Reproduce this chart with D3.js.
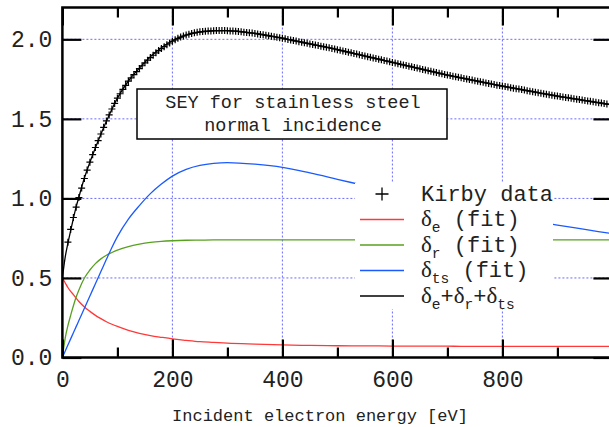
<!DOCTYPE html>
<html>
<head>
<meta charset="utf-8">
<script src="https://cdn.jsdelivr.net/npm/d3@7/dist/d3.min.js"></script>
<style>
  html, body { margin: 0; padding: 0; background: #fff; }
  svg { display: block; }
</style>
</head>
<body>
<svg id="chart" width="609" height="427"></svg>
<script>
// ---------------- DATA ----------------
const xTicksMajor = [0, 200, 400, 600, 800, 1000];
const xTickLabels = ["0", "200", "400", "600", "800", ""];
const xTicksMinor = [100, 300, 500, 700, 900];
const yTicks = [0.0, 0.5, 1.0, 1.5, 2.0];

const titleLines = ["SEY for stainless steel", "normal incidence"];
const xAxisTitle = "Incident electron energy [eV]";

// Fit curves, energy grid (eV)
const fitEnergy = [0, 5, 10, 15, 20, 25, 30, 40, 50, 60, 70, 80, 90, 100, 120, 140, 160, 180, 200,
  225, 250, 275, 300, 350, 400, 450, 500, 550, 600, 650, 700, 750, 800, 850, 900, 950, 1000];

const deltaE = [0.5, 0.47, 0.44, 0.416, 0.395, 0.373, 0.352, 0.318, 0.29, 0.265, 0.244, 0.225, 0.209, 0.195,
  0.171, 0.152, 0.138, 0.127, 0.117, 0.108, 0.1, 0.095, 0.09, 0.084, 0.079, 0.076, 0.074, 0.073, 0.072,
  0.071, 0.071, 0.07, 0.07, 0.07, 0.07, 0.07, 0.07];

const deltaR = [0, 0.12, 0.2, 0.265, 0.325, 0.38, 0.425, 0.5, 0.55, 0.59, 0.62, 0.643, 0.66, 0.675,
  0.697, 0.712, 0.723, 0.73, 0.734, 0.737, 0.738, 0.739, 0.739, 0.739, 0.739, 0.739, 0.739, 0.739, 0.739,
  0.739, 0.739, 0.739, 0.739, 0.739, 0.739, 0.739, 0.739];

const deltaTS = [0, 0.039, 0.078, 0.117, 0.155, 0.194, 0.232, 0.31, 0.387, 0.463, 0.54, 0.617, 0.692, 0.76,
  0.87, 0.955, 1.03, 1.09, 1.14, 1.182, 1.207, 1.22, 1.225, 1.215, 1.195, 1.16, 1.12, 1.08, 1.04,
  1.0, 0.963, 0.928, 0.895, 0.862, 0.832, 0.805, 0.778];

const deltaSum = [0.5, 0.629, 0.718, 0.798, 0.875, 0.947, 1.009, 1.128, 1.227, 1.318, 1.404, 1.485, 1.561, 1.63,
  1.738, 1.819, 1.891, 1.947, 1.991, 2.027, 2.045, 2.054, 2.055, 2.038, 2.008, 1.971, 1.935, 1.895, 1.855,
  1.815, 1.775, 1.74, 1.706, 1.674, 1.643, 1.615, 1.588];

// Kirby measured data: 10 eV to 1000 eV in 5 eV steps
const kirbyStart = 10, kirbyStep = 5;
const kirbySEY = [
  0.725, 0.805, 0.88, 0.945, 1.005, 1.065, 1.125, 1.178, 1.228, 1.275,
  1.32, 1.363, 1.405, 1.447, 1.487, 1.525, 1.562, 1.597, 1.63, 1.658,
  1.685, 1.711, 1.737, 1.758, 1.778, 1.797, 1.816, 1.834, 1.852, 1.869,
  1.885, 1.9, 1.915, 1.929, 1.942, 1.954, 1.966, 1.977, 1.988, 1.997,
  2.006, 2.014, 2.021, 2.027, 2.032, 2.037, 2.041, 2.044, 2.047, 2.049,
  2.051, 2.052, 2.053, 2.054, 2.055, 2.055, 2.055, 2.055, 2.054, 2.053,
  2.052, 2.051, 2.049, 2.047, 2.045, 2.043, 2.041, 2.039, 2.037, 2.034,
  2.031, 2.028, 2.025, 2.022, 2.019, 2.016, 2.013, 2.01, 2.007, 2.003,
  1.999, 1.996, 1.992, 1.989, 1.985, 1.982, 1.978, 1.975, 1.971, 1.968,
  1.964, 1.961, 1.957, 1.954, 1.95, 1.947, 1.943, 1.939, 1.935, 1.931,
  1.927, 1.923, 1.919, 1.915, 1.911, 1.907, 1.903, 1.899, 1.895, 1.891,
  1.887, 1.883, 1.879, 1.875, 1.871, 1.867, 1.863, 1.859, 1.855, 1.851,
  1.847, 1.843, 1.839, 1.835, 1.831, 1.827, 1.823, 1.819, 1.815, 1.811,
  1.807, 1.803, 1.799, 1.795, 1.791, 1.787, 1.783, 1.779, 1.775, 1.772,
  1.768, 1.765, 1.761, 1.758, 1.754, 1.751, 1.747, 1.744, 1.74, 1.737,
  1.733, 1.73, 1.726, 1.723, 1.719, 1.716, 1.712, 1.709, 1.706, 1.703,
  1.7, 1.696, 1.693, 1.69, 1.687, 1.684, 1.681, 1.677, 1.674, 1.671,
  1.668, 1.664, 1.661, 1.658, 1.655, 1.652, 1.649, 1.646, 1.643, 1.64,
  1.637, 1.635, 1.632, 1.629, 1.626, 1.624, 1.621, 1.618, 1.615, 1.613,
  1.61, 1.607, 1.604, 1.602, 1.599, 1.596, 1.593, 1.591, 1.588
];

const legendLabels = ["Kirby data", "δe (fit)", "δr (fit)", "δts (fit)", "δe+δr+δts"];

// ---------------- CHART ----------------
const svg = d3.select("#chart");
const MONO = "'Liberation Mono', 'DejaVu Sans Mono', monospace";
const SERIF = "'Liberation Serif', 'DejaVu Serif', serif";
const colors = { e: "#ff3838", r: "#58a020", ts: "#1a5aff", sum: "#000000" };

const x = d3.scaleLinear().domain([0, 1000]).range([62.4, 612.4]);
const y = d3.scaleLinear().domain([0, 2.2]).range([357.5, 7.5]);
const [x0, x1] = x.range();
const [yb, yt] = y.range();

svg.append("defs").append("clipPath").attr("id", "plotclip")
  .append("rect").attr("x", x0).attr("y", yt).attr("width", x1 - x0).attr("height", yb - yt);

// grid
const grid = svg.append("g");
grid.selectAll("line.gx").data(xTicksMajor.filter(d => d > 0 && d < 1000)).join("line")
  .attr("x1", d => x(d)).attr("x2", d => x(d)).attr("y1", yb).attr("y2", yt)
  .attr("stroke", "#6b6bff").attr("stroke-width", 1).attr("stroke-dasharray", "2,2");
grid.selectAll("line.gy").data(yTicks.filter(d => d > 0)).join("line")
  .attr("x1", x0).attr("x2", x1).attr("y1", d => y(d)).attr("y2", d => y(d))
  .attr("stroke", "#6b6bff").attr("stroke-width", 1).attr("stroke-dasharray", "2,2");

// curves
const plot = svg.append("g").attr("clip-path", "url(#plotclip)");
const line = d3.line().x(d => x(d[0])).y(d => y(d[1])).curve(d3.curveMonotoneX);
const series = [
  { vals: deltaE, color: colors.e },
  { vals: deltaR, color: colors.r },
  { vals: deltaTS, color: colors.ts },
  { vals: deltaSum, color: colors.sum }
];
series.forEach(s => {
  plot.append("path")
    .attr("d", line(fitEnergy.map((e, i) => [e, s.vals[i]])))
    .attr("fill", "none").attr("stroke", s.color).attr("stroke-width", 1.3);
});

// Kirby markers
const kirby = kirbySEY.map((v, i) => [kirbyStart + i * kirbyStep, v]);
const pm = 3.5;
plot.append("path")
  .attr("d", kirby.map(d => {
    const px = x(d[0]), py = y(d[1]);
    return `M${px - pm},${py}H${px + pm}M${px},${py - pm}V${py + pm}`;
  }).join(""))
  .attr("fill", "none").attr("stroke", "#000").attr("stroke-width", 1.2);

// title box
svg.append("rect").attr("x", 137).attr("y", 89).attr("width", 310).attr("height", 50)
  .attr("fill", "#fff").attr("stroke", "#000").attr("stroke-width", 1.5);
svg.append("g").selectAll("text").data(titleLines).join("text")
  .attr("x", 293).attr("y", (d, i) => 108 + i * 23)
  .attr("text-anchor", "middle").attr("font-family", MONO).attr("font-size", 18.5)
  .attr("fill", "#222").text(d => d);

// legend
svg.append("rect").attr("x", 355).attr("y", 183).attr("width", 198).attr("height", 126).attr("fill", "#fff");
const lg = svg.append("g");
const rowY = i => 194 + 25.5 * i;
lg.append("path")
  .attr("d", `M${382 - 6.5},${rowY(0)}H${382 + 6.5}M382,${rowY(0) - 6.5}V${rowY(0) + 6.5}`)
  .attr("stroke", "#000").attr("stroke-width", 1.3);
[colors.e, colors.r, colors.ts, colors.sum].forEach((c, i) => {
  lg.append("line").attr("x1", 360).attr("x2", 404).attr("y1", rowY(i + 1)).attr("y2", rowY(i + 1))
    .attr("stroke", c).attr("stroke-width", 1.5);
});
function addText(i, parts) {
  const t = lg.append("text").attr("x", 421).attr("y", rowY(i) + 6.5)
    .attr("font-family", MONO).attr("font-size", 22).attr("fill", "#222");
  let sub = false;
  parts.forEach(p => {
    const ts = t.append("tspan").text(p.t);
    if (p.greek) ts.attr("font-family", SERIF).attr("font-size", 23);
    if (p.sub) { ts.attr("font-size", 14.5).attr("dy", sub ? 0 : 6); sub = true; }
    else if (sub) { ts.attr("dy", -6); sub = false; }
  });
}
addText(0, [{ t: legendLabels[0] }]);
addText(1, [{ t: "δ", greek: true }, { t: "e", sub: true }, { t: "\u00a0(fit)" }]);
addText(2, [{ t: "δ", greek: true }, { t: "r", sub: true }, { t: "\u00a0(fit)" }]);
addText(3, [{ t: "δ", greek: true }, { t: "ts", sub: true }, { t: "\u00a0(fit)" }]);
addText(4, [{ t: "δ", greek: true }, { t: "e", sub: true }, { t: "+" }, { t: "δ", greek: true },
  { t: "r", sub: true }, { t: "+" }, { t: "δ", greek: true }, { t: "ts", sub: true }]);

// axes
function styleAxis(g) {
  g.select(".domain").remove();
  g.selectAll(".tick line").attr("stroke", "#000").attr("stroke-width", 2.2);
}
const fmtY = d3.format(".1f");

svg.append("g").attr("transform", `translate(0,${yb})`)
  .call(d3.axisBottom(x).tickValues(xTicksMajor).tickSize(-18)
    .tickFormat((d, i) => xTickLabels[i]))
  .call(styleAxis)
  .call(g => g.selectAll(".tick text").attr("y", 29.5).attr("dy", 0)
    .attr("font-family", MONO).attr("font-size", 23).attr("fill", "#222"));
svg.append("g").attr("transform", `translate(0,${yb})`)
  .call(d3.axisBottom(x).tickValues(xTicksMinor).tickSize(-10).tickFormat(""))
  .call(styleAxis);
svg.append("g").attr("transform", `translate(0,${yt})`)
  .call(d3.axisTop(x).tickValues(xTicksMajor).tickSize(-18).tickFormat(""))
  .call(styleAxis);
svg.append("g").attr("transform", `translate(0,${yt})`)
  .call(d3.axisTop(x).tickValues(xTicksMinor).tickSize(-10).tickFormat(""))
  .call(styleAxis);
svg.append("g").attr("transform", `translate(${x0},0)`)
  .call(d3.axisLeft(y).tickValues(yTicks).tickSize(-19).tickPadding(10).tickFormat(fmtY))
  .call(styleAxis)
  .call(g => g.selectAll(".tick text").attr("font-family", MONO).attr("font-size", 23).attr("fill", "#222"));
svg.append("g").attr("transform", `translate(${x1},0)`)
  .call(d3.axisRight(y).tickValues(yTicks).tickSize(-19).tickFormat(""))
  .call(styleAxis);

// frame
svg.append("rect").attr("x", x0).attr("y", yt).attr("width", x1 - x0).attr("height", yb - yt)
  .attr("fill", "none").attr("stroke", "#000").attr("stroke-width", 2.5);

// axis title
svg.append("text").attr("x", 320).attr("y", 421).attr("text-anchor", "middle")
  .attr("font-family", MONO).attr("font-size", 17).attr("fill", "#222").text(xAxisTitle);
</script>
</body>
</html>
